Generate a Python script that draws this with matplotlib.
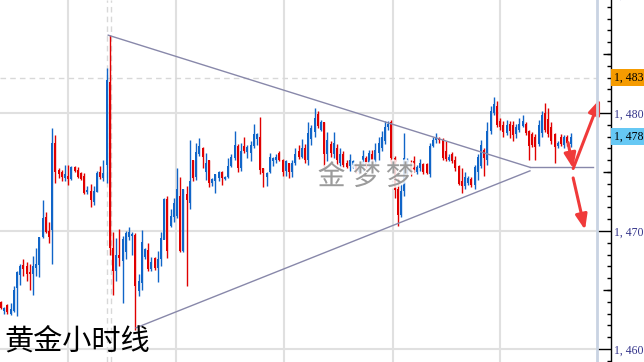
import matplotlib
matplotlib.use("Agg")
import matplotlib.pyplot as plt
import matplotlib.transforms as mtransforms
import matplotlib.patheffects as pe
from matplotlib.ticker import MultipleLocator, FixedLocator, NullLocator

# ---------------- data (hourly gold candles) ----------------
opens = [1464.0, 1463.2, 1463.7, 1463.0, 1463.2, 1465.2, 1466.3, 1467.1, 1467.0, 1466.5,
         1466.4, 1466.9, 1467.1, 1469.5, 1471.2, 1470.0, 1470.1, 1477.5, 1475.2, 1475.0,
         1474.5, 1474.7, 1474.4, 1475.4, 1475.2, 1474.9, 1474.7, 1473.3, 1473.4, 1472.5,
         1473.3, 1475.0, 1474.5, 1475.6, 1482.6, 1468.6, 1466.6, 1468.0, 1467.5, 1468.2,
         1469.5, 1469.6, 1469.7, 1464.9, 1465.6, 1467.8, 1468.4, 1466.8, 1467.7, 1466.9,
         1467.6, 1469.2, 1472.7, 1470.4, 1471.2, 1471.3, 1473.0, 1468.3, 1473.1, 1472.4,
         1476.0, 1474.6, 1476.5, 1477.0, 1475.0, 1476.0, 1474.1, 1474.2, 1474.5, 1475.0,
         1474.4, 1474.6, 1475.5, 1476.2, 1477.2, 1475.3, 1477.2, 1476.7, 1476.6, 1477.2,
         1477.8, 1478.0, 1475.3, 1474.6, 1475.0, 1475.9, 1476.0, 1476.6, 1476.0, 1475.1,
         1475.8, 1475.0, 1475.8, 1476.8, 1476.3, 1477.0, 1476.0, 1477.8, 1478.4, 1479.9,
         1478.6, 1479.2, 1476.5, 1477.4, 1476.5, 1477.0, 1475.8, 1476.5, 1475.8, 1475.5,
         1475.6, 1475.7, 1475.0, 1475.4, 1476.2, 1475.7, 1476.5, 1475.9, 1476.6, 1477.0,
         1477.6, 1478.8, 1479.2, 1476.2, 1473.6, 1471.4, 1473.4, 1475.4, 1475.8, 1475.9,
         1475.0, 1475.3, 1475.7, 1475.7, 1474.8, 1477.2, 1477.7, 1477.9, 1477.7, 1476.8,
         1476.0, 1476.5, 1476.0, 1475.5, 1474.2, 1473.8, 1474.1, 1474.4, 1473.9, 1475.0,
         1475.5, 1476.9, 1476.0, 1478.5, 1480.0, 1480.6, 1479.3, 1479.0, 1478.3, 1479.1,
         1479.0, 1478.2, 1478.6, 1478.9, 1479.1, 1478.5, 1478.2, 1478.0, 1477.4, 1478.3,
         1480.0, 1479.5, 1478.8, 1478.2, 1477.2, 1478.0, 1477.3, 1478.0, 1477.4]
highs = [1464.1, 1463.6, 1463.8, 1463.9, 1465.3, 1466.6, 1467.2, 1467.6, 1467.4, 1467.2,
         1467.9, 1468.6, 1469.5, 1472.6, 1471.6, 1470.8, 1478.7, 1478.1, 1475.3, 1475.2,
         1475.6, 1475.6, 1475.5, 1475.5, 1475.4, 1475.0, 1474.9, 1473.8, 1474.0, 1473.8,
         1475.1, 1475.5, 1476.0, 1483.8, 1486.6, 1469.9, 1469.4, 1470.2, 1469.6, 1470.0,
         1470.3, 1469.9, 1469.8, 1466.4, 1470.1, 1468.6, 1469.0, 1467.8, 1467.8, 1468.3,
         1469.9, 1472.8, 1473.0, 1471.9, 1472.8, 1475.3, 1474.6, 1473.6, 1473.8, 1477.7,
         1476.0, 1477.5, 1477.9, 1477.1, 1476.6, 1476.0, 1474.5, 1474.8, 1475.1, 1475.1,
         1474.7, 1476.2, 1476.5, 1478.5, 1477.4, 1477.5, 1478.0, 1477.3, 1477.6, 1479.1,
         1478.3, 1479.7, 1475.3, 1475.0, 1476.6, 1476.3, 1476.5, 1476.8, 1476.1, 1476.0,
         1475.8, 1476.0, 1477.0, 1477.3, 1477.8, 1477.4, 1479.2, 1479.0, 1480.4, 1480.2,
         1479.4, 1479.2, 1478.4, 1477.6, 1478.4, 1477.4, 1477.0, 1476.8, 1476.0, 1476.5,
         1476.0, 1475.8, 1475.6, 1476.9, 1476.4, 1476.9, 1476.9, 1477.5, 1478.0, 1478.5,
         1479.3, 1479.3, 1479.4, 1476.4, 1474.5, 1474.0, 1478.3, 1476.2, 1476.0, 1476.4,
         1475.6, 1476.1, 1475.8, 1475.8, 1477.5, 1478.0, 1478.3, 1478.0, 1477.9, 1477.6,
         1476.5, 1476.7, 1476.4, 1475.6, 1475.3, 1475.0, 1474.7, 1474.6, 1475.6, 1476.5,
         1477.7, 1477.0, 1479.2, 1480.6, 1481.4, 1481.0, 1479.6, 1479.3, 1479.4, 1479.3,
         1479.3, 1479.1, 1479.6, 1479.8, 1479.2, 1478.6, 1478.4, 1478.2, 1479.4, 1480.2,
         1480.85, 1480.4, 1479.2, 1478.3, 1477.6, 1478.2, 1478.1, 1478.1, 1478.3]
lows = [1463.4, 1463.0, 1463.0, 1462.9, 1463.1, 1462.8, 1465.4, 1466.2, 1465.8, 1465.0,
        1464.6, 1466.2, 1466.1, 1469.4, 1469.8, 1469.0, 1467.2, 1474.1, 1474.5, 1474.2,
        1474.2, 1473.9, 1474.3, 1475.0, 1474.5, 1474.3, 1473.1, 1473.1, 1472.0, 1472.2,
        1473.3, 1474.4, 1474.2, 1474.1, 1468.0, 1464.6, 1465.8, 1467.0, 1463.9, 1467.6,
        1469.2, 1468.0, 1461.6, 1464.5, 1465.0, 1467.6, 1466.6, 1466.6, 1466.7, 1465.7,
        1467.0, 1469.3, 1467.7, 1470.3, 1470.8, 1471.1, 1468.2, 1468.2, 1465.3, 1471.9,
        1474.2, 1474.3, 1476.4, 1475.3, 1474.3, 1473.7, 1473.8, 1473.2, 1474.2, 1473.9,
        1474.3, 1474.5, 1475.4, 1476.0, 1475.0, 1475.1, 1476.6, 1476.2, 1475.9, 1477.0,
        1477.3, 1474.8, 1473.7, 1473.8, 1474.9, 1475.5, 1475.8, 1475.9, 1474.7, 1474.7,
        1474.5, 1474.6, 1475.6, 1476.1, 1476.2, 1475.8, 1475.6, 1477.3, 1478.0, 1478.7,
        1478.5, 1475.2, 1475.9, 1476.3, 1476.2, 1475.6, 1475.4, 1475.4, 1475.3, 1475.1,
        1475.3, 1474.9, 1474.8, 1475.1, 1475.3, 1475.4, 1475.8, 1475.5, 1476.0, 1476.8,
        1477.4, 1478.6, 1475.6, 1472.8, 1470.4, 1471.2, 1473.0, 1474.8, 1474.7, 1475.0,
        1474.8, 1475.1, 1474.8, 1474.8, 1474.6, 1477.1, 1477.5, 1477.5, 1476.0, 1475.9,
        1475.9, 1475.8, 1475.1, 1473.9, 1473.2, 1473.6, 1473.9, 1473.7, 1473.6, 1474.3,
        1475.3, 1474.7, 1475.6, 1478.2, 1479.8, 1478.8, 1478.6, 1478.0, 1478.1, 1477.9,
        1477.6, 1477.9, 1478.4, 1478.8, 1478.1, 1476.0, 1477.1, 1476.0, 1477.2, 1478.0,
        1478.4, 1478.0, 1477.4, 1475.8, 1477.0, 1477.2, 1477.0, 1477.2, 1477.1]
closes = [1463.5, 1463.5, 1463.1, 1463.4, 1465.0, 1466.5, 1467.0, 1466.8, 1466.4, 1466.4,
          1467.0, 1467.2, 1469.5, 1471.1, 1469.9, 1469.5, 1477.5, 1475.0, 1474.8, 1474.6,
          1474.8, 1474.4, 1475.4, 1475.1, 1474.6, 1474.4, 1473.2, 1473.5, 1472.6, 1473.4,
          1474.9, 1474.6, 1474.9, 1482.8, 1468.6, 1466.6, 1468.0, 1467.7, 1469.3, 1469.8,
          1469.9, 1469.7, 1465.3, 1465.8, 1469.1, 1468.5, 1466.8, 1467.4, 1466.9, 1467.6,
          1469.4, 1472.7, 1468.3, 1471.3, 1472.4, 1473.6, 1468.3, 1473.6, 1472.6, 1474.2,
          1474.5, 1476.7, 1477.2, 1476.3, 1475.8, 1474.1, 1474.4, 1474.8, 1475.0, 1474.5,
          1474.6, 1475.5, 1476.3, 1477.3, 1475.3, 1476.8, 1476.8, 1477.1, 1477.3, 1478.2,
          1478.2, 1475.2, 1474.9, 1474.9, 1476.3, 1476.2, 1476.3, 1476.0, 1475.0, 1475.9,
          1475.0, 1475.8, 1476.5, 1476.3, 1477.0, 1476.0, 1478.3, 1478.7, 1479.6, 1478.9,
          1479.2, 1476.5, 1477.7, 1476.6, 1477.5, 1476.0, 1476.5, 1475.6, 1475.4, 1476.0,
          1475.9, 1475.2, 1475.4, 1476.4, 1475.6, 1476.6, 1476.0, 1476.9, 1477.5, 1478.0,
          1478.8, 1479.1, 1476.2, 1473.5, 1471.4, 1473.4, 1476.2, 1475.9, 1475.0, 1475.2,
          1475.4, 1475.8, 1475.0, 1474.9, 1477.2, 1477.7, 1477.9, 1477.7, 1476.2, 1476.1,
          1476.3, 1475.9, 1475.3, 1474.0, 1473.8, 1474.6, 1474.5, 1473.9, 1475.4, 1476.3,
          1477.3, 1476.2, 1478.5, 1480.2, 1480.8, 1479.0, 1478.8, 1478.4, 1479.0, 1478.5,
          1478.1, 1478.8, 1479.1, 1479.3, 1478.3, 1477.2, 1477.3, 1477.1, 1479.0, 1479.8,
          1478.6, 1478.2, 1477.6, 1477.1, 1477.5, 1477.4, 1478.0, 1477.5, 1478.0]

# triangle (candle index, price)
upper_line_x = [33.5, 165.3]
upper_line_y = [1486.6, 1475.4]
lower_line_x = [42.2, 165.3]
lower_line_y = [1461.8, 1475.1]
flat_line_x = [165.3, 185.0]
flat_line_y = [1475.4, 1475.4]

# arrows: (tail, head)
arrows = [((177.2, 1477.5), (178.8, 1475.3)),
          ((178.8, 1475.3), (187.2, 1481.2)),
          ((178.8, 1474.5), (182.5, 1470.1))]

ytick_vals = [1460, 1470, 1480]
ytick_labels = ["1, 460", "1, 470", "1, 480"]
mid_ticks = [1465, 1475, 1485]
last_price = 1478.0
marker_price = 1483.0
grid_x = [20.9, 54.7, 88.4, 122.5, 155.9]
cross_x = [33.2, 34.4]

# ---------------- drawing ----------------
W, H = 644, 362
fig = plt.figure(figsize=(W / 100, H / 100), dpi=100)
fig.patch.set_facecolor("white")
ax = fig.add_axes([0, 0, 597 / W, 1])
ax.set_facecolor("white")
ax.set_xlim(-0.3125, 186.25)
ax.set_ylim(1458.90, 1489.58)

# secondary axes only for the medium (every 5) scale ticks
ax2 = ax.twinx()
ax2.set_ylim(ax.get_ylim())
ax2.patch.set_visible(False)
for s in ax2.spines.values():
    s.set_visible(False)
ax2.spines["right"].set_position(("outward", 14 * 0.72))
ax2.yaxis.set_major_locator(FixedLocator(mid_ticks))
ax2.yaxis.set_minor_locator(NullLocator())
ax2.set_yticklabels([])
ax2.tick_params(axis="y", which="major", direction="in", length=8 * 0.72, width=1,
                color="black", left=False, right=True)
ax2.set_xticks([])

# grid
for gx in grid_x:
    ax.axvline(gx, color="#e0e0e0", lw=1.5, zorder=0)
for gy in ytick_vals:
    ax.axhline(gy, color="#e0e0e0", lw=1.5, zorder=0)
ax.axhline(marker_price, color="#d8d8d8", lw=1, ls=(0, (4, 3)), zorder=0)
for cx in cross_x:
    ax.axvline(cx, color="#d8d8d8", lw=1, ls=(0, (4, 3)), zorder=0)

UP, DN = "#1065c8", "#e00000"
for i, (o, h, l, c) in enumerate(zip(opens, highs, lows, closes)):
    col = UP if c >= o else DN
    ax.vlines(i, l, h, color=col, lw=1, zorder=2)
    body = max(abs(c - o), 0.12)
    ax.bar(i, body, bottom=min(o, c), width=0.62, color=col, lw=0, zorder=3)

lc = "#8888aa"
ax.plot(upper_line_x, upper_line_y, color=lc, lw=1, zorder=4)
ax.plot(lower_line_x, lower_line_y, color=lc, lw=1, zorder=4)
ax.plot(flat_line_x, flat_line_y, color=lc, lw=1, zorder=4)

for tail, head in arrows:
    ax.annotate("", xy=head, xytext=tail,
                arrowprops=dict(arrowstyle="-|>,head_length=0.9,head_width=0.35",
                                color="#f03a3a", lw=2.2, shrinkA=0, shrinkB=0),
                annotation_clip=False, zorder=6)

# watermark
for ch, xi in zip(["金", "梦", "梦"], [103.3, 114.3, 124.6]):
    ax.text(xi, 1474.6, ch, fontsize=20, color="#8c8c8c", ha="center", va="center",
            family=["Noto Sans CJK SC", "DejaVu Sans"], alpha=0.85, zorder=5,
            path_effects=[pe.withStroke(linewidth=3, foreground="white")])

# axes styling
for s in ["left", "top", "bottom"]:
    ax.spines[s].set_visible(False)
ax.spines["right"].set_position(("outward", 14 * 0.72))
ax.spines["right"].set_color("black")
ax.spines["right"].set_linewidth(1)
ax.set_xticks([])
ax.yaxis.tick_right()
ax.yaxis.set_label_position("right")
ax.yaxis.set_major_locator(FixedLocator(ytick_vals))
ax.set_yticklabels(ytick_labels)
ax.yaxis.set_minor_locator(MultipleLocator(1))
ax.tick_params(axis="y", which="both", left=False, right=True,
               labelleft=False, labelright=True)
ax.tick_params(axis="y", which="major", direction="in", length=14 * 0.72, width=1,
               color="black", pad=2.5, labelsize=8.5, labelcolor="#34348a")
ax.tick_params(axis="y", which="minor", direction="in", length=4 * 0.72, width=1,
               color="black")
for t in ax.get_yticklabels():
    t.set_family("Liberation Serif")

# separator between plot and scale
ax.plot([1, 1], [0, 1], transform=ax.transAxes, color="#c9d3e2", lw=2,
        clip_on=False, zorder=7)

trans = mtransforms.blended_transform_factory(ax.transAxes, ax.transData)
xl = 614 / 597
ax.text(xl, marker_price, "1, 483", transform=trans, fontsize=8.5, va="center",
        ha="left", family="Liberation Serif", color="black", clip_on=False,
        bbox=dict(boxstyle="square,pad=0.22", fc="#f59b00", ec="none"))
ax.text(xl, last_price, "1, 478", transform=trans, fontsize=8.5, va="center",
        ha="left", family="Liberation Serif", color="black", clip_on=False,
        bbox=dict(boxstyle="square,pad=0.22", fc="#66c8f4", ec="none"))
ax.text(614 / 597, 1490, "1, 490", transform=trans, fontsize=8.5, va="center",
        ha="left", family="Liberation Serif", color="#34348a", clip_on=False)

fig.text(4 / W, 1 - 342 / H, "黄金小时线", fontsize=21, color="black",
         va="center", ha="left", family=["Noto Sans CJK SC", "DejaVu Sans"])

fig.savefig("out.png", dpi=100, facecolor="white")
